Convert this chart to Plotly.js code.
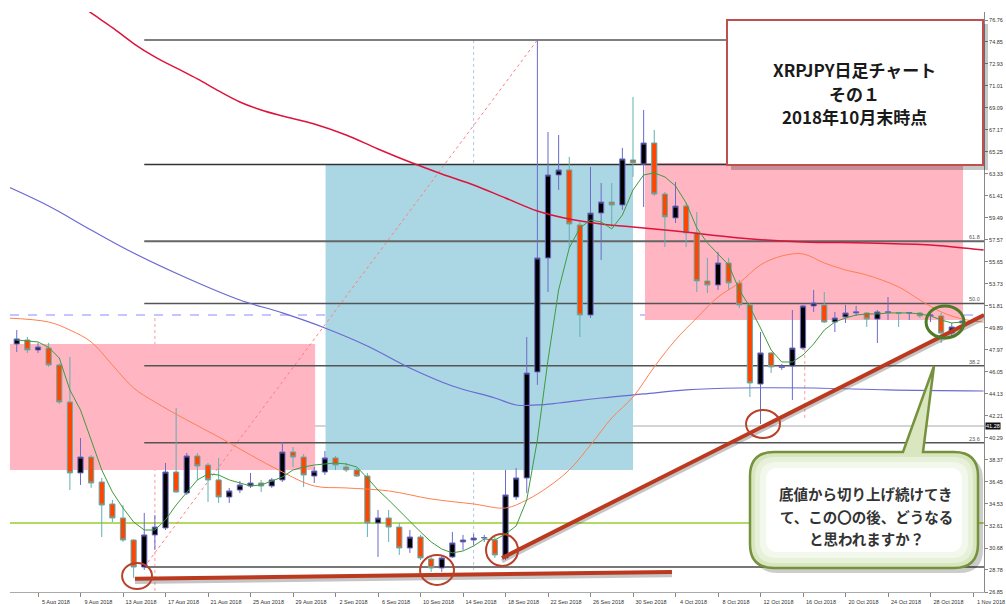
<!DOCTYPE html>
<html><head><meta charset="utf-8">
<script src="https://cdn.plot.ly/plotly-3.0.1.min.js"></script>
<style>html,body{margin:0;padding:0;background:#fff}#chart{width:1006px;height:604px}</style>
</head><body><div id="chart"></div>
<script>
// ---- DATA ----
const dates = [
"2018-08-03","2018-08-04","2018-08-05","2018-08-06","2018-08-07","2018-08-08","2018-08-09","2018-08-10","2018-08-11","2018-08-12",
"2018-08-13","2018-08-14","2018-08-15","2018-08-16","2018-08-17","2018-08-18","2018-08-19","2018-08-20","2018-08-21","2018-08-22",
"2018-08-23","2018-08-24","2018-08-25","2018-08-26","2018-08-27","2018-08-28","2018-08-29","2018-08-30","2018-08-31","2018-09-01",
"2018-09-02","2018-09-03","2018-09-04","2018-09-05","2018-09-06","2018-09-07","2018-09-08","2018-09-09","2018-09-10","2018-09-11",
"2018-09-12","2018-09-13","2018-09-14","2018-09-15","2018-09-16","2018-09-17","2018-09-18","2018-09-19","2018-09-20","2018-09-21",
"2018-09-22","2018-09-23","2018-09-24","2018-09-25","2018-09-26","2018-09-27","2018-09-28","2018-09-29","2018-09-30","2018-10-01",
"2018-10-02","2018-10-03","2018-10-04","2018-10-05","2018-10-06","2018-10-07","2018-10-08","2018-10-09","2018-10-10","2018-10-11",
"2018-10-12","2018-10-13","2018-10-14","2018-10-15","2018-10-16","2018-10-17","2018-10-18","2018-10-19","2018-10-20","2018-10-21",
"2018-10-22","2018-10-23","2018-10-24","2018-10-25","2018-10-26","2018-10-27","2018-10-28","2018-10-29","2018-10-30","2018-10-31"];
const openVals = [
48.49,48.84,47.97,48.14,46.66,43.43,37.24,38.63,36.45,34.53,
33.31,31.39,29.03,31.83,32.44,37.32,35.49,38.72,37.93,36.63,
35.14,35.75,36.10,36.36,36.10,36.63,39.07,38.63,36.97,37.32,
38.55,37.76,37.50,36.97,32.87,33.31,32.52,30.69,31.65,29.73,
28.95,29.91,31.22,31.39,31.56,31.39,29.82,35.14,36.80,46.05,
56.00,63.24,63.68,58.88,51.02,59.92,60.88,60.62,64.55,64.20,
66.03,61.58,59.49,60.53,58.18,53.99,53.64,55.56,53.82,51.90,
45.00,47.71,46.45,46.57,48.14,51.81,51.90,50.41,50.85,51.20,
51.20,50.67,51.25,51.22,51.20,51.20,50.98,50.94,49.45,50.33];
const highVals = [
49.71,49.10,48.58,48.58,46.80,47.36,40.29,38.80,36.80,34.88,
34.44,31.45,33.75,33.57,38.11,42.91,38.98,38.98,38.11,38.55,
35.93,36.53,37.24,36.63,36.80,39.94,39.50,38.89,37.76,39.15,
38.72,38.11,37.67,37.24,34.01,34.01,32.87,32.26,31.83,29.91,
30.08,32.09,31.83,31.91,31.83,31.65,37.50,37.67,49.10,75.02,
66.99,66.73,64.81,59.14,63.94,62.54,62.54,65.60,70.05,68.91,
67.17,61.76,62.63,60.80,60.01,56.00,56.52,56.00,54.08,52.07,
49.54,47.79,46.75,51.46,51.90,53.21,53.03,51.29,51.90,51.81,
51.29,51.46,52.59,51.29,51.29,51.29,51.29,51.20,50.33,50.59];
const lowVals = [
47.79,47.71,47.71,46.49,43.25,35.75,36.19,35.93,31.65,32.96,
31.22,28.07,28.78,30.52,32.26,35.49,35.32,36.63,34.71,34.62,
34.62,35.49,35.93,35.58,35.93,36.45,37.76,36.01,36.36,37.06,
37.50,37.32,36.88,31.65,29.91,31.22,30.08,30.26,29.64,28.60,
28.60,29.82,30.52,30.96,31.22,29.82,29.64,34.88,35.49,44.92,
53.03,61.93,56.87,49.10,50.76,55.82,58.70,60.19,63.07,60.45,
61.41,56.96,59.05,56.96,53.03,52.94,53.21,53.21,51.63,43.87,
41.51,45.96,46.23,43.60,47.97,51.29,50.33,49.54,50.33,50.94,
49.98,48.58,50.59,49.98,50.59,50.76,50.41,48.58,49.10,50.20];
const closeVals = [
48.93,47.97,48.23,46.66,43.43,37.24,38.63,36.36,34.44,33.31,
31.39,29.03,31.83,32.52,37.32,35.58,38.72,37.85,36.63,35.14,
35.67,36.19,36.36,36.10,36.63,39.07,38.63,37.06,37.41,38.55,
37.93,37.50,36.97,32.87,33.31,32.52,30.69,31.65,29.82,28.95,
29.82,31.13,31.39,31.56,31.60,30.08,35.32,36.80,45.96,56.00,
63.24,63.68,58.96,51.02,59.92,60.88,60.62,64.64,64.29,66.03,
61.58,59.58,60.53,58.18,53.99,53.64,55.56,53.82,51.90,45.09,
47.71,46.49,46.52,48.14,51.81,52.07,50.41,50.76,51.20,51.29,
50.67,51.29,51.29,51.18,51.22,50.94,51.02,49.45,49.98,50.50];
// green short moving average (per candle date)
const maFastVals = [
48.84,48.75,48.67,48.20,47.27,44.48,42.73,40.12,37.50,35.58,
34.18,32.96,32.26,32.26,33.14,34.44,35.49,36.63,37.15,37.06,
36.63,36.36,36.10,36.19,36.54,36.88,37.50,37.76,37.93,38.02,
38.11,38.02,37.76,36.80,35.75,34.88,33.92,33.05,32.09,31.22,
30.60,30.26,30.43,30.87,31.48,31.39,31.91,32.61,34.88,40.12,
47.09,53.21,56.87,58.62,59.31,59.14,58.53,59.75,61.93,63.24,
63.42,63.07,62.28,60.80,58.62,57.31,56.35,55.39,53.21,51.72,
49.89,47.97,46.92,46.92,47.53,48.49,49.71,50.41,50.76,51.02,
51.11,51.11,51.20,51.20,51.20,51.11,50.94,50.59,50.33,50.41];
// orange medium moving average
const maMidDates = ["2018-08-02","2018-08-06","2018-08-08","2018-08-10","2018-08-12","2018-08-14","2018-08-16","2018-08-19","2018-08-22","2018-08-25","2018-08-28","2018-08-31","2018-09-03","2018-09-07","2018-09-11","2018-09-15","2018-09-18","2018-09-20","2018-09-22","2018-09-24","2018-09-26","2018-09-28","2018-09-30","2018-10-02","2018-10-04","2018-10-06","2018-10-08","2018-10-10","2018-10-12","2018-10-14","2018-10-16","2018-10-18","2018-10-20","2018-10-22","2018-10-25","2018-10-27","2018-10-29","2018-10-31","2018-11-02"];
const maMidVals = [50.76,50.41,49.71,48.67,46.66,44.65,43.43,41.86,40.38,38.81,37.32,36.10,35.93,35.67,34.97,34.53,34.18,34.88,36.01,37.50,39.68,42.03,43.87,46.49,48.84,50.76,52.59,53.82,55.39,56.17,56.35,55.56,54.95,54.51,53.47,52.33,51.29,50.67,50.40];
// blue long moving average
const maLongDates = ["2018-08-02","2018-08-06","2018-08-10","2018-08-14","2018-08-19","2018-08-24","2018-08-28","2018-09-01","2018-09-05","2018-09-09","2018-09-13","2018-09-17","2018-09-19","2018-09-21","2018-09-23","2018-09-27","2018-10-01","2018-10-05","2018-10-10","2018-10-17","2018-10-24","2018-11-02"];
const maLongVals = [62.28,60.53,58.44,56.43,54.25,52.33,51.20,49.89,48.32,46.40,44.83,43.78,43.17,43.17,43.34,43.78,44.13,44.48,44.65,44.65,44.48,44.39];
// crimson very long moving average
const maSlowDates = ["2018-08-09","2018-08-10","2018-08-12","2018-08-14","2018-08-16","2018-08-18","2018-08-20","2018-08-22","2018-08-24","2018-08-26","2018-08-28","2018-08-31","2018-09-03","2018-09-06","2018-09-09","2018-09-12","2018-09-15","2018-09-18","2018-09-21","2018-09-24","2018-09-27","2018-09-30","2018-10-04","2018-10-10","2018-10-16","2018-10-22","2018-10-28","2018-11-01","2018-11-02"];
const maSlowVals = [78.10,77.38,76.10,74.71,73.54,72.58,71.62,70.57,69.61,68.91,68.39,67.69,66.73,65.51,64.37,63.33,62.37,61.23,60.10,59.40,58.96,58.70,58.35,57.74,57.39,57.31,57.13,56.78,56.69];
// Fibonacci retracement
const fibLevels = [29.03, 39.88, 46.60, 52.03, 57.45, 64.16, 75.02];
const fibNames = ["0.0","23.6","38.2","50.0","61.8","76.4","100.0"];
// axis ticks
const priceTicks = [26.85,28.78,30.68,32.61,34.53,36.45,38.37,40.29,42.21,44.13,46.05,47.97,49.89,51.81,53.73,55.65,57.57,59.49,61.41,63.33,65.25,67.17,69.09,71.01,72.93,74.85,76.76];
const dateTicks = ["2018-08-05","2018-08-09","2018-08-13","2018-08-17","2018-08-21","2018-08-25","2018-08-29","2018-09-02","2018-09-06","2018-09-10","2018-09-14","2018-09-18","2018-09-22","2018-09-26","2018-09-30","2018-10-04","2018-10-08","2018-10-12","2018-10-16","2018-10-20","2018-10-24","2018-10-28","2018-11-01"];
const dateTickLabels = ["5 Aug 2018","9 Aug 2018","13 Aug 2018","17 Aug 2018","21 Aug 2018","25 Aug 2018","29 Aug 2018","2 Sep 2018","6 Sep 2018","10 Sep 2018","14 Sep 2018","18 Sep 2018","22 Sep 2018","26 Sep 2018","30 Sep 2018","4 Oct 2018","8 Oct 2018","12 Oct 2018","16 Oct 2018","20 Oct 2018","24 Oct 2018","28 Oct 2018","1 Nov 2018"];
const supportLevel = 32.87, bidLevel = 51.02, markLevel = 41.34;

// ---- helpers for paper-positioned decorations ----
const PL=10, PR=984, PT=12, PB=592;
const fx = v => (v-PL)/(PR-PL);
const fy = v => (PB-v)/(PB-PT);
const pp = (x,y) => fx(x).toFixed(5)+','+fy(y).toFixed(5);
function roundRect(x0,y0,x1,y1,r,ptr){
  let s = 'M'+pp(x0+r,y0)+' ';
  if(ptr){ s += 'L'+pp(ptr[0],y0)+' L'+pp(ptr[2],ptr[3])+' L'+pp(ptr[1],y0)+' '; }
  s += 'L'+pp(x1-r,y0)+' Q'+pp(x1,y0)+' '+pp(x1,y0+r)+' L'+pp(x1,y1-r)+' Q'+pp(x1,y1)+' '+pp(x1-r,y1)+
       ' L'+pp(x0+r,y1)+' Q'+pp(x0,y1)+' '+pp(x0,y1-r)+' L'+pp(x0,y0+r)+' Q'+pp(x0,y0)+' '+pp(x0+r,y0)+' Z';
  return s;
}

const shapes = [];
// separators (behind zones)
shapes.push({type:'line',xref:'x',yref:'y',x0:'2018-08-16',x1:'2018-08-16',y0:50.76,y1:26.85,line:{color:'#ff9a9a',width:1,dash:'dot'},layer:'below'});
shapes.push({type:'line',xref:'x',yref:'y',x0:'2018-09-15',x1:'2018-09-15',y0:75.02,y1:28.77,line:{color:'#a9c9e6',width:1,dash:'dot'},layer:'below'});
shapes.push({type:'line',xref:'x',yref:'y',x0:'2018-10-16 04:00',x1:'2018-10-16 04:00',y0:51.72,y1:41.86,line:{color:'#ff9a9a',width:1,dash:'dot'},layer:'below'});
// zones
shapes.push({type:'rect',xref:'x',yref:'y',x0:'2018-08-01',x1:'2018-08-31 02:00',y0:37.50,y1:48.49,fillcolor:'#ffb5c2',line:{width:0},layer:'below'});
shapes.push({type:'rect',xref:'x',yref:'y',x0:'2018-09-01 01:30',x1:'2018-09-30',y0:37.50,y1:64.11,fillcolor:'#abd7e4',line:{width:0},layer:'below'});
shapes.push({type:'rect',xref:'x',yref:'y',x0:'2018-10-01 03:00',x1:'2018-10-31 01:30',y0:50.59,y1:64.29,fillcolor:'#ffb5c2',line:{width:0},layer:'below'});
// horizontal levels
shapes.push({type:'line',xref:'paper',yref:'y',x0:0,x1:1,y0:markLevel,y1:markLevel,line:{color:'#d4d4d4',width:2},layer:'below'});
shapes.push({type:'line',xref:'paper',yref:'y',x0:0,x1:1,y0:supportLevel,y1:supportLevel,line:{color:'#9acd32',width:1.5},layer:'below'});
// fib lines
const fibColors = ['#777','#555','#555','#555','#666','#333','#555'];
const fibWidths = [2,1.5,1.5,1.5,2,1.5,1.5];
fibLevels.forEach((lv,i)=>{
  shapes.push({type:'line',xref:'x',yref:'y',x0:'2018-08-15',x1:'2018-11-05',y0:lv,y1:lv,line:{color:fibColors[i],width:fibWidths[i]},layer:'below'});
});
shapes.push({type:'line',xref:'x',yref:'y',x0:'2018-08-15',y0:fibLevels[0],x1:'2018-09-21',y1:fibLevels[6],line:{color:'#ff7f7f',width:1,dash:'dot'},layer:'below'});
shapes.push({type:'line',xref:'paper',yref:'y',x0:0,x1:1,y0:bidLevel,y1:bidLevel,line:{color:'#8a8aff',width:1,dash:'dash'},layer:'below'});

// trend lines (with soft shadow)
const tl = [
  ['2018-08-14 03:00',28.00,'2018-10-03 16:00',28.60],
  ['2018-09-17 16:00',29.82,'2018-11-02 00:45',51.02]
];
tl.forEach(t=>{
  shapes.push({type:'line',xref:'x',yref:'y',x0:t[0],y0:t[1]-0.28,x1:t[2],y1:t[3]-0.28,line:{color:'rgba(90,90,90,0.35)',width:4},layer:'above'});
});
tl.forEach(t=>{
  shapes.push({type:'line',xref:'x',yref:'y',x0:t[0],y0:t[1],x1:t[2],y1:t[3],line:{color:'#bb3a1f',width:4},layer:'above'});
});
// circles
const circ = [
  ['2018-08-12 22:00','2018-08-15 17:30',27.11,29.38],
  ['2018-09-09 23:00','2018-09-13 03:40',27.46,30.08],
  ['2018-09-16 04:00','2018-09-19 04:20',29.12,31.91],
  ['2018-10-10 15:20','2018-10-13 20:00',40.29,42.73]
];
circ.forEach(c=>shapes.push({type:'circle',xref:'x',yref:'y',x0:c[0],x1:c[1],y0:c[2],y1:c[3],line:{color:'#b8412a',width:2},layer:'above'}));
shapes.push({type:'circle',xref:'x',yref:'y',x0:'2018-10-27 14:00',x1:'2018-10-31 03:40',y0:49.02,y1:51.81,line:{color:'#4f7a28',width:3},layer:'above'});

// title box
shapes.push({type:'rect',xref:'paper',yref:'paper',x0:fx(731),x1:fx(988),y0:fy(170),y1:fy(24),fillcolor:'rgba(0,0,0,0.22)',line:{width:0},layer:'above'});
shapes.push({type:'rect',xref:'paper',yref:'paper',x0:fx(727),x1:fx(983),y0:fy(165),y1:fy(20),fillcolor:'#ffffff',line:{color:'#c0504d',width:2},layer:'above'});
// callout
const ptr = [903,923,934,366];
shapes.push({type:'path',xref:'paper',yref:'paper',path:roundRect(754,456,983,573,24,null),fillcolor:'rgba(0,0,0,0.2)',line:{width:0},layer:'above'});
shapes.push({type:'path',xref:'paper',yref:'paper',path:roundRect(750,452,978,568,24,ptr),fillcolor:'#d9e6c0',line:{color:'#76923c',width:2.5},layer:'above'});
shapes.push({type:'path',xref:'paper',yref:'paper',path:roundRect(755,457,973,563,20,null),fillcolor:'#e7f0d8',line:{width:0},layer:'above'});
shapes.push({type:'path',xref:'paper',yref:'paper',path:roundRect(760,462,968,558,16,null),fillcolor:'#f3f8ec',line:{width:0},layer:'above'});
shapes.push({type:'path',xref:'paper',yref:'paper',path:roundRect(766,468,962,552,12,null),fillcolor:'#ffffff',line:{width:0},layer:'above'});

const jp = 'Noto Sans CJK JP';
const annotations = [];
[['XRPJPY日足チャート',69],['その１',93],['2018年10月末時点',117]].forEach(a=>{
  annotations.push({xref:'paper',yref:'paper',x:fx(854),y:fy(a[1]),xanchor:'center',yanchor:'middle',showarrow:false,text:a[0],font:{family:jp,size:17,color:'#1a1a1a',weight:'bold'}});
});
[['底値から切り上げ続けてき',493],['て、この〇の後、どうなる',516],['と思われますか？',538]].forEach(a=>{
  annotations.push({xref:'paper',yref:'paper',x:fx(866),y:fy(a[1]),xanchor:'center',yanchor:'middle',showarrow:false,text:a[0],font:{family:jp,size:14.5,color:'#333',weight:'bold'}});
});
[[4,'61.8'],[3,'50.0'],[2,'38.2'],[1,'23.6']].forEach(a=>{
  annotations.push({xref:'paper',yref:'y',x:fx(982),y:fibLevels[a[0]],xanchor:'right',yanchor:'bottom',showarrow:false,text:a[1],font:{size:5.5,color:'#555'},yshift:-1});
});
annotations.push({xref:'paper',yref:'y',x:1,y:markLevel,xanchor:'left',yanchor:'middle',showarrow:false,text:'41.28',bgcolor:'#111',font:{size:5.5,color:'#fff'},borderpad:0,xshift:1});

const traces = [
  {type:'scatter',mode:'lines',x:maSlowDates,y:maSlowVals,line:{color:'#dc143c',width:1.5,shape:'spline'},hoverinfo:'skip'},
  {type:'scatter',mode:'lines',x:maLongDates,y:maLongVals,line:{color:'#6a6ad2',width:1.2,shape:'spline'},hoverinfo:'skip'},
  {type:'scatter',mode:'lines',x:maMidDates,y:maMidVals,line:{color:'#ff7f50',width:1,shape:'spline'},hoverinfo:'skip'},
  {type:'scatter',mode:'lines',x:dates,y:maFastVals,line:{color:'#3f9a3f',width:1},hoverinfo:'skip'},
  {type:'candlestick',x:dates,open:openVals,high:highVals,low:lowVals,close:closeVals,
   increasing:{line:{color:'#6b6bc8',width:1},fillcolor:'#000000'},
   decreasing:{line:{color:'#5fb0b0',width:1},fillcolor:'#ff4500'},
   whiskerwidth:0,hoverinfo:'skip'}
];

const layout = {
  width:1006,height:604,
  margin:{l:PL,r:1006-PR,t:PT,b:604-PB},
  paper_bgcolor:'#fff',plot_bgcolor:'#fff',
  showlegend:false,
  font:{family:'Liberation Sans',size:6,color:'#333'},
  xaxis:{type:'date',range:['2018-08-02 08:45','2018-11-02 00:50'],rangeslider:{visible:false},
    tickmode:'array',tickvals:dateTicks,ticktext:dateTickLabels,ticks:'outside',ticklen:4,tickcolor:'#888',
    showgrid:false,zeroline:false,showline:true,linecolor:'#aaa',tickfont:{size:5.5,color:'#333'},ticklabelshift:18},
  yaxis:{side:'right',range:[26.85,77.46],tickmode:'array',tickvals:priceTicks,ticktext:priceTicks.map(v=>v.toFixed(2)),
    ticks:'outside',ticklen:3,tickcolor:'#888',showgrid:false,zeroline:false,showline:true,linecolor:'#888',
    tickfont:{size:5.5,color:'#333'}},
  shapes:shapes,annotations:annotations
};
Plotly.newPlot('chart',traces,layout,{staticPlot:true,displayModeBar:false});
</script></body></html>
